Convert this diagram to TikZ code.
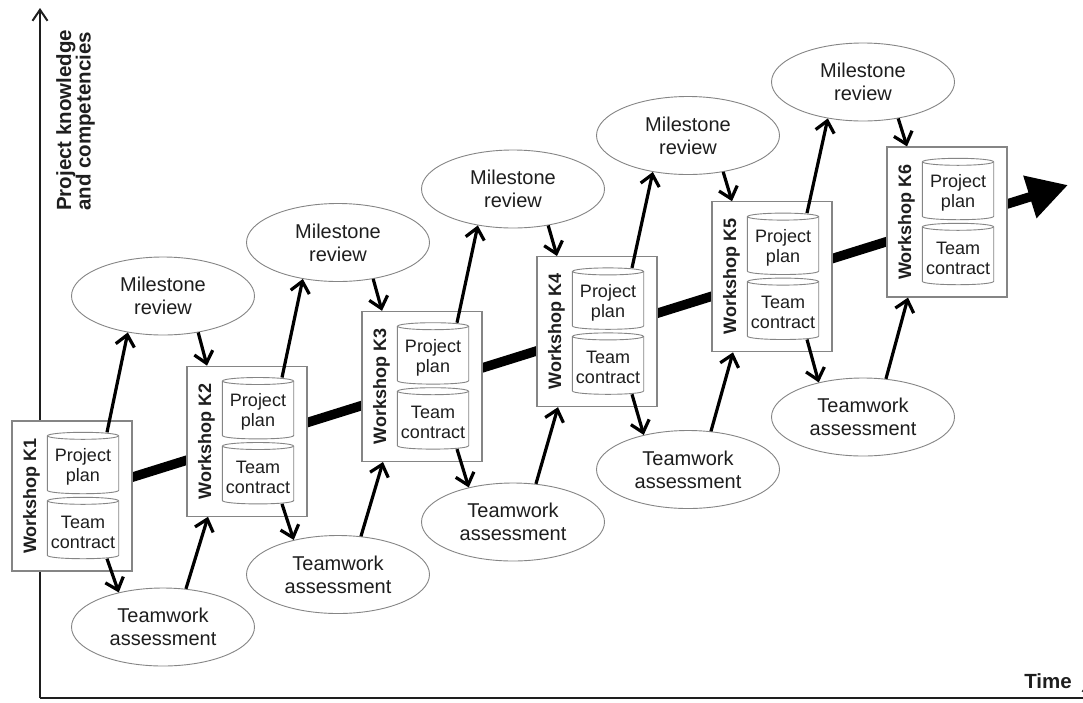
\documentclass[tikz,border=0pt]{standalone}
\usepackage{fontspec}
\setmainfont{Liberation Sans}
\usetikzlibrary{arrows.meta,shapes.geometric}

\pgfdeclarelayer{background}
\pgfsetlayers{background,main}

\definecolor{ink}{HTML}{1E1E1E}
\definecolor{frame}{HTML}{858585}

\tikzset{
  wsbox/.style={draw=frame, fill=white, line width=1.2pt, minimum width=120pt,
    minimum height=150pt, inner sep=0pt},
  wslabel/.style={rotate=90, text=ink, inner sep=0pt,
    font=\bfseries\fontsize{18}{20}\selectfont},
  oval/.style={ellipse, draw=frame, fill=white, line width=0.9pt, minimum width=183pt,
    minimum height=78pt, inner sep=0pt, align=center, text=ink,
    font=\fontsize{20}{23}\selectfont},
  drumbody/.style={rectangle, minimum width=71pt, minimum height=61pt, inner sep=0pt},
  drumline/.style={draw=frame, line width=0.9pt},
  drumtext/.style={align=center, inner sep=0pt, text=ink,
    font=\fontsize{18}{20}\selectfont},
  link/.style={draw=black, line width=3.2pt, -{Straight Barb[length=11pt, width=19pt]}},
  axis/.style={draw=ink, line width=2pt},
  trend/.style={draw=black, line width=9.5pt, -{Triangle[length=40pt, width=42pt]}},
  axislabel/.style={text=ink, inner sep=0pt, font=\bfseries\fontsize{20.5}{19.5}\selectfont}
}

% a drum (cylinder) with two lines of text: name, position, line 1, line 2
\newcommand\wsdrum[4]{%
  \node[drumbody] (#1) at (#2) {};
  \draw[drumline] ([yshift=-3.5pt]#1.north west) -- ([yshift=3.5pt]#1.south west)
    .. controls ([yshift=-1.17pt]#1.south west) and ([yshift=-1.17pt]#1.south east)
    .. ([yshift=3.5pt]#1.south east) -- ([yshift=-3.5pt]#1.north east);
  \draw[drumline] ([yshift=-3.5pt]#1.north) ellipse [x radius=35.5pt, y radius=3.5pt];
  \node[drumtext] (#1-t) at ([yshift=-4pt]#1.center) {#3\\#4};
}

% a workshop box: index, x, y
\newcommand\workshop[3]{%
  \node[wsbox] (k#1) at (#2,#3) {};
  \node[wslabel] (k#1-lbl) at ([xshift=20pt]k#1.west) {Workshop K#1};
  \wsdrum{p#1}{[shift={(11,-33)}]k#1.center}{Project}{plan}
  \wsdrum{c#1}{[shift={(11,32)}]k#1.center}{Team}{contract}
}

\begin{document}
\begin{tikzpicture}[x=1pt, y=-1pt]
  \useasboundingbox (0,0) rectangle (1083,702);
  \clip (0,0) rectangle (1083,702);

  % axes
  \coordinate (origin) at (40,698);
  \coordinate (ytop) at (40,8);
  \coordinate (xend) at (1095,698);
  \draw[axis, -{Straight Barb[length=11pt, width=15pt]}] (origin) -- (ytop);
  \draw[axis, -{Straight Barb[length=11pt, width=15pt]}] (origin) -- (xend);
  \node[axislabel, rotate=90, anchor=north west, align=left] (ylbl) at (56,211)
    {Project knowledge\\and competencies};
  \node[axislabel, anchor=base east] (xlbl) at (1072,688) {Time};

  % workshops
  \workshop{1}{72}{496}
  \workshop{2}{247}{441.2}
  \workshop{3}{422}{386.4}
  \workshop{4}{597}{331.6}
  \workshop{5}{772}{276.8}
  \workshop{6}{947}{222}

  % trend arrow, behind the workshop boxes
  \coordinate (tip) at (1068,185);
  \begin{pgfonlayer}{background}
    \draw[trend] (k1.center) -- (tip);
  \end{pgfonlayer}

  % milestone reviews and teamwork assessments
  \node[oval] (m1) at (163,296) {Milestone\\review};
  \node[oval] (m2) at (338,242.5) {Milestone\\review};
  \node[oval] (m3) at (513,189) {Milestone\\review};
  \node[oval] (m4) at (688,135.5) {Milestone\\review};
  \node[oval] (m5) at (863,82) {Milestone\\review};
  \node[oval] (t1) at (163,627) {Teamwork\\assessment};
  \node[oval] (t2) at (338,574.5) {Teamwork\\assessment};
  \node[oval] (t3) at (513,522) {Teamwork\\assessment};
  \node[oval] (t4) at (688,469.5) {Teamwork\\assessment};
  \node[oval] (t5) at (863,417) {Teamwork\\assessment};

  % connectors
  \foreach \i [evaluate=\i as \j using int(\i+1)] in {1,...,5} {
    \draw[link] ([xshift=24pt]p\i.north) -- (m\i.226);
    \draw[link] (m\i.314) -- ([xshift=-40pt]k\j.north);
    \draw[link] ([xshift=24pt]c\i.south) -- (t\i.142);
    \draw[link] (t\i.59) -- ([xshift=-39pt]k\j.south);
  }
\end{tikzpicture}
\end{document}
